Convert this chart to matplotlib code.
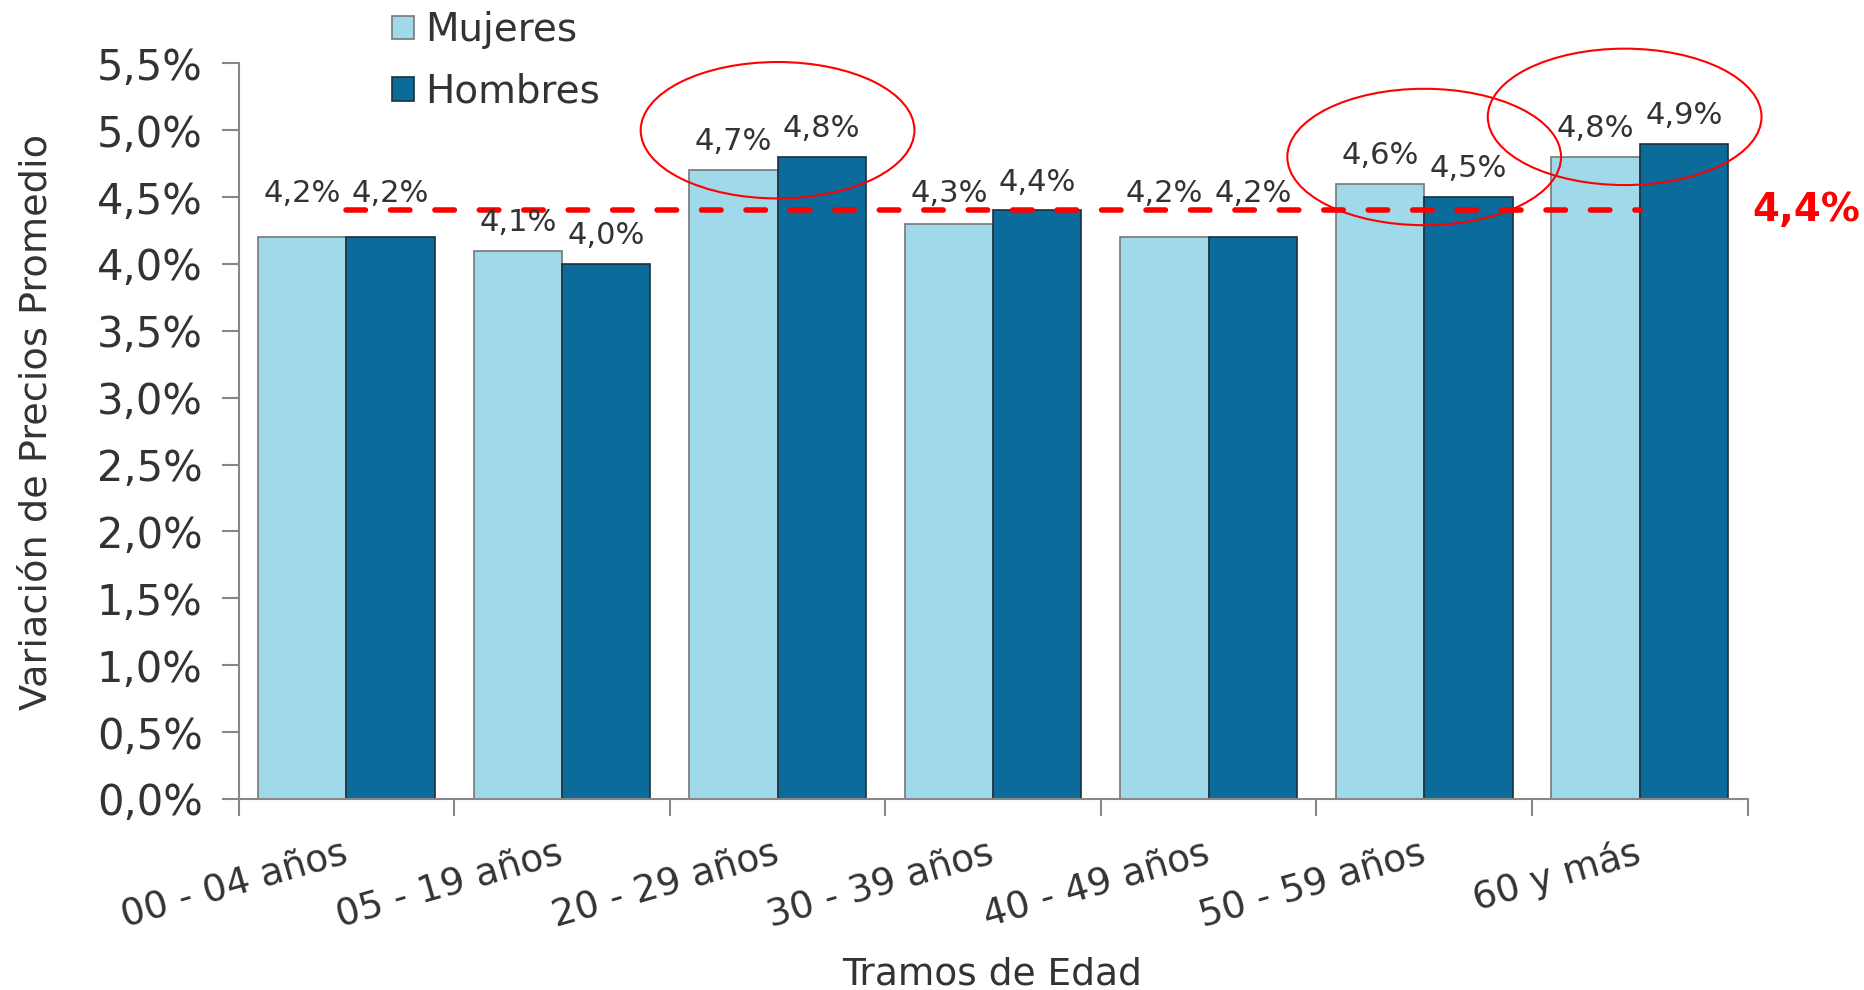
import numpy as np
from matplotlib import pyplot as plt
from matplotlib.patches import Ellipse
from matplotlib.ticker import FuncFormatter


#data
tramos = ['00 - 04 años', '05 - 19 años', '20 - 29 años', '30 - 39 años',
          '40 - 49 años', '50 - 59 años', '60 y más']
mujeres = [4.2, 4.1, 4.7, 4.3, 4.2, 4.6, 4.8]
hombres = [4.2, 4.0, 4.8, 4.4, 4.2, 4.5, 4.9]
promedio = 4.4
destacados = [2, 5, 6]   # grupos marcados con elipse

c_muj = '#9FD9EA'
c_hom = '#0B6B9B'
gray = '#888888'
txt = '#333333'

fmt = lambda v: f'{v:.1f}%'.replace('.', ',')

#plot
fig = plt.figure(figsize=(18.65, 9.9), dpi=100)
ax = fig.add_axes([0.128, 0.193, 0.809, 0.743])

x = np.arange(len(tramos))
w = 0.41
b1 = ax.bar(x - w/2, mujeres, w, color=c_muj, edgecolor='#777777', linewidth=1.2, label='Mujeres')
b2 = ax.bar(x + w/2, hombres, w, color=c_hom, edgecolor='#1f2f38', linewidth=1.2, label='Hombres')

for bars, vals in ((b1, mujeres), (b2, hombres)):
    for r, v in zip(bars, vals):
        # etiquetas que chocarian con la linea de promedio se suben sobre ella
        if promedio - 0.25 < v < promedio - 0.1:
            y0, off = promedio, 2
        else:
            y0, off = v, 10
        ax.annotate(fmt(v), (r.get_x() + r.get_width()/2, y0), xytext=(0, off),
                    textcoords='offset points', ha='center', va='bottom',
                    fontsize=22, color=txt, zorder=7)

#promedio
ax.hlines(promedio, x[0], x[-1], colors='#FF0000', linewidth=4,
          linestyles=(0, (3.5, 4.5)), zorder=5, capstyle='round')
ax.text(1.003, promedio, fmt(promedio), transform=ax.get_yaxis_transform(),
        color='#FF0000', fontsize=28, fontweight='bold', va='center', ha='left')

#elipses
for i in destacados:
    top = max(mujeres[i], hombres[i])
    e = Ellipse((x[i] - 0.07 * (i == 6), top + 0.2), 1.27, 1.02, fill=False,
                edgecolor='#FF0000', linewidth=1.5, clip_on=False, zorder=6)
    ax.add_patch(e)

#axes
ax.set_xlim(-0.5, len(tramos) - 0.5)
ax.set_ylim(0, 5.5)
ax.set_yticks(np.arange(0, 5.51, 0.5))
ax.yaxis.set_major_formatter(FuncFormatter(lambda v, p: fmt(v)))
ax.set_xticks(np.arange(-0.5, len(tramos), 1))
ax.set_xticklabels([])
for i, t in enumerate(tramos):
    ax.text(x[i] + 0.0, -0.40, t, rotation=16, rotation_mode='anchor',
            ha='right', va='center', fontsize=27, color=txt)

for s in ('top', 'right'):
    ax.spines[s].set_visible(False)
for s in ('left', 'bottom'):
    ax.spines[s].set_color(gray)
    ax.spines[s].set_linewidth(1.5)
ax.tick_params(axis='both', colors=gray, width=1.5, length=12, labelcolor=txt)
ax.tick_params(axis='y', labelsize=30, pad=14)

ax.set_ylabel('Variación de Precios Promedio', fontsize=27.5, color=txt)
ax.yaxis.set_label_coords(-0.122, 0.513)
fig.text(0.532, 0.016, 'Tramos de Edad', fontsize=27, color=txt, ha='center', va='center')

fig.legend(handles=[b1, b2], loc='upper left', bbox_to_anchor=(0.1915, 1.024),
           frameon=False, fontsize=28, handlelength=0.55, handleheight=0.55,
           handletextpad=0.3, labelspacing=0.6, labelcolor=txt)

plt.savefig('out.png', dpi=100)
